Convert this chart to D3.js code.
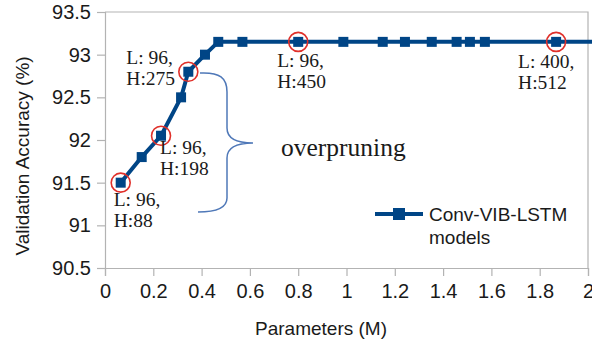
<!DOCTYPE html>
<html>
<head>
<meta charset="utf-8">
<script src="https://cdn.jsdelivr.net/npm/d3@7"></script>
<style>
  html, body { margin: 0; padding: 0; background: #fff; }
  svg { display: block; }
</style>
</head>
<body>
<script>
// ---- data ----
const params = [0.065, 0.152, 0.232, 0.315, 0.345, 0.414, 0.469, 0.569, 0.80, 0.987, 1.15, 1.242, 1.353, 1.456, 1.511, 1.573, 1.868, 2.2];
const accuracy = [91.5, 91.8, 92.05, 92.5, 92.8, 93.0, 93.15, 93.15, 93.15, 93.15, 93.15, 93.15, 93.15, 93.15, 93.15, 93.15, 93.15, 93.15];
const seriesName = ["Conv-VIB-LSTM", "models"];
const xTicks = [0, 0.2, 0.4, 0.6, 0.8, 1, 1.2, 1.4, 1.6, 1.8, 2];
const yTicks = [90.5, 91, 91.5, 92, 92.5, 93, 93.5];
// highlighted configurations: index into data, label lines
const highlights = [
  { i: 0, lines: ["L: 96,", "H:88"] },
  { i: 2, lines: ["L: 96,", "H:198"] },
  { i: 4, lines: ["L: 96,", "H:275"] },
  { i: 8, lines: ["L: 96,", "H:450"] },
  { i: 16, lines: ["L: 400,", "H:512"] }
];
const annotation = "overpruning";

// ---- layout ----
const W = 592, H = 345;
const svg = d3.select("body").append("svg").attr("width", W).attr("height", H);
const x = d3.scaleLinear().domain([0, 2]).range([105, 588]);
const y = d3.scaleLinear().domain([90.5, 93.5]).range([268, 12]);
const blue = "#004586";
const axisGray = "#b3b3b3";
const sans = "'Liberation Sans', Arial, sans-serif";
const serif = "'Liberation Serif', 'Times New Roman', serif";

// frame (top & right)
svg.append("path")
  .attr("d", `M${x(0)},${y(93.5)}H${x(2)}V${y(90.5)}`)
  .attr("fill", "none").attr("stroke", axisGray).attr("stroke-width", 1.2);

// axes
const xAxis = svg.append("g").attr("transform", `translate(0,${y(90.5)})`)
  .call(d3.axisBottom(x).tickValues(xTicks).tickSize(8).tickPadding(8)
        .tickFormat(d => d3.format("~g")(d)));
const yAxis = svg.append("g").attr("transform", `translate(${x(0)},0)`)
  .call(d3.axisLeft(y).tickValues(yTicks).tickSize(8).tickPadding(6)
        .tickFormat(d => d3.format("~g")(d)));
[xAxis, yAxis].forEach(g => {
  g.select(".domain").attr("stroke", axisGray).attr("stroke-width", 1.2);
  g.selectAll(".tick line").attr("stroke", axisGray).attr("stroke-width", 1.2);
  g.selectAll(".tick text").attr("fill", "#1a1a1a")
    .style("font-family", sans).style("font-size", "20px");
});
xAxis.selectAll(".tick text").attr("dy", "0.71em");

// axis titles
svg.append("text").attr("x", 321).attr("y", 335)
  .attr("text-anchor", "middle").attr("fill", "#1a1a1a")
  .style("font-family", sans).style("font-size", "19px").text("Parameters (M)");
svg.append("text")
  .attr("transform", `translate(29,156) rotate(-90)`)
  .attr("text-anchor", "middle").attr("fill", "#1a1a1a")
  .style("font-family", sans).style("font-size", "19px").text("Validation Accuracy (%)");

// line
const pts = params.map((p, i) => [p, accuracy[i]]);
svg.append("path").datum(pts)
  .attr("d", d3.line().x(d => x(d[0])).y(d => y(d[1])))
  .attr("fill", "none").attr("stroke", blue).attr("stroke-width", 4)
  .attr("stroke-linejoin", "round");

// markers
const ms = 10;
svg.selectAll("rect.m").data(pts.filter(d => d[0] <= 2)).enter().append("rect")
  .attr("class", "m")
  .attr("x", d => x(d[0]) - ms / 2).attr("y", d => y(d[1]) - ms / 2)
  .attr("width", ms).attr("height", ms).attr("fill", blue);

// red circles
svg.selectAll("circle.h").data(highlights).enter().append("circle")
  .attr("cx", d => x(params[d.i])).attr("cy", d => y(accuracy[d.i]))
  .attr("r", 9.5).attr("fill", "none").attr("stroke", "#e0302a").attr("stroke-width", 1.6);

// labels
const labelPos = [
  { dx: -7, dy: 23 },   // H:88
  { dx: -1, dy: 18 },   // H:198
  { dx: -62, dy: -8 },  // H:275
  { dx: -21, dy: 25 },  // H:450
  { dx: -38, dy: 26 }   // H:512
];
highlights.forEach((h, k) => {
  const t = svg.append("text")
    .attr("fill", "#1a1a1a").style("font-family", serif).style("font-size", "19.5px");
  h.lines.forEach((ln, j) => {
    t.append("tspan")
      .attr("x", x(params[h.i]) + labelPos[k].dx)
      .attr("y", y(accuracy[h.i]) + labelPos[k].dy + j * 21)
      .text(ln);
  });
});

// brace
svg.append("path")
  .attr("d", "M200,73 C220,72 227,78 227,92 L227,128 C227,138 235,143 253,143 C235,143 227,148 227,158 L227,198 C227,207 218,212 198,212")
  .attr("fill", "none").attr("stroke", "#4f78b8").attr("stroke-width", 1.5);
svg.append("text").attr("x", 281).attr("y", 156)
  .attr("fill", "#1a1a1a").style("font-family", serif).style("font-size", "25.5px")
  .text(annotation);

// legend
const lg = svg.append("g");
lg.append("line").attr("x1", 375).attr("x2", 423).attr("y1", 214).attr("y2", 214)
  .attr("stroke", blue).attr("stroke-width", 4);
lg.append("rect").attr("x", 399 - 6).attr("y", 214 - 6).attr("width", 12).attr("height", 12).attr("fill", blue);
const lt = lg.append("text").attr("fill", "#1a1a1a")
  .style("font-family", sans).style("font-size", "19px");
seriesName.forEach((s, j) => {
  lt.append("tspan").attr("x", 429).attr("y", 221 + j * 23).text(s);
});
</script>
</body>
</html>
